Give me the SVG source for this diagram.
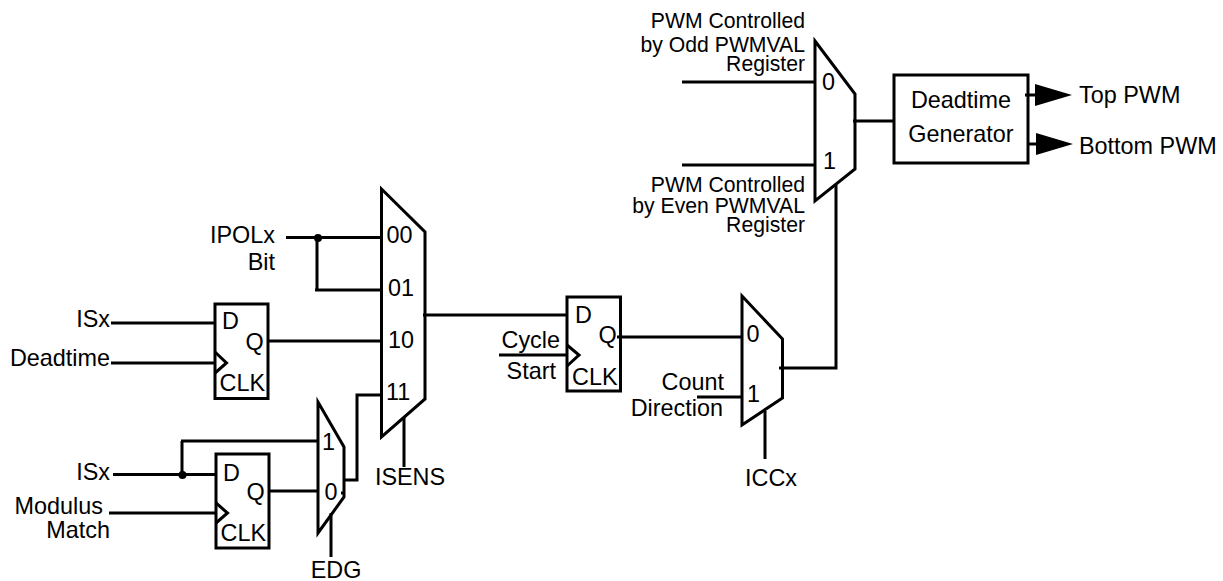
<svg xmlns="http://www.w3.org/2000/svg" width="1223" height="581" viewBox="0 0 1223 581">
<style>
text{font-family:"Liberation Sans",Arial,sans-serif;font-size:23.4px;fill:#000}
.s{font-size:21.2px}
.e{text-anchor:end}
.m{text-anchor:middle}
.b{fill:#fff;stroke:#000;stroke-width:3}
.c{fill:none;stroke:#000;stroke-width:3}
.w{fill:none;stroke:#000;stroke-width:3}
.k{fill:#000;stroke:none}
</style>
<rect width="1223" height="581" fill="#fff"/>
<g id="mux-isens"><polygon class="b" points="381.500,189 425,232 425,399 381.500,437"/>
<text x="386.500" y="243">00</text><text x="388" y="296">01</text><text x="388" y="347.500">10</text><text x="386" y="400">11</text></g>
<g id="ff-1"><rect class="b" x="215" y="304" width="53" height="94.500"/><path class="c" d="M215 352L226.500 363L215 373"/>
<text x="222" y="329">D</text><text x="245.500" y="350">Q</text><text x="219.500" y="391">CLK</text></g>
<g id="ff-2"><rect class="b" x="216" y="454" width="53" height="94"/><path class="c" d="M216 503L227.500 513L216 523"/>
<text x="223" y="481">D</text><text x="246.500" y="500">Q</text><text x="220.500" y="541">CLK</text></g>
<g id="mux-edg"><polygon class="b" points="318,402 344,447 344,497 318,533"/>
<text x="322" y="450">1</text><text x="324.500" y="500">0</text></g>
<g id="ff-3"><rect class="b" x="567" y="297" width="53.500" height="94"/><path class="c" d="M567 345L579 355L567 366"/>
<text x="575" y="323">D</text><text x="598.500" y="343">Q</text><text x="572" y="385">CLK</text></g>
<g id="mux-iccx"><polygon class="b" points="742,296 782.500,339 782.500,398 742,425"/>
<text x="746.500" y="342">0</text><text x="747" y="402">1</text></g>
<g id="mux-pwm"><polygon class="b" points="815,41 855,94 855,169 815,201"/>
<text x="822" y="90">0</text><text x="823" y="169">1</text></g>
<g id="deadtime-generator"><rect class="b" x="894" y="75" width="134" height="88"/>
<text x="961" y="107.500" class="m">Deadtime</text><text x="961" y="142" class="m">Generator</text></g>
<g id="connectors">
<path class="w" d="M286 237.500H381M317 237.500V290M315 290H381"/>
<path class="w" d="M111 323H215M111 363H215M268 341H381"/>
<path class="w" d="M113 474.500H216M182 474.500V441M181 441H318M269 491H318M109 513H216M341 493H344"/>
<path class="w" d="M344 480H357V395H381M331 513V557M404 417V467"/>
<path class="w" d="M423 315H567M499 355H567M617 337H742M697 397H742M765 411V459M779 368H836V185"/>
<path class="w" d="M682 82H816M682 165H816M853 121H894M1025 95H1037M1029 144H1037"/>
<circle class="k" cx="318" cy="238" r="4"/>
<circle class="k" cx="182.500" cy="475" r="4"/>
<polygon class="k" points="1035,84 1072,95 1035,106"/>
<polygon class="k" points="1036,133 1073,144 1036,155"/>
</g>
<g id="labels">
<text x="275" y="243" class="e">IPOLx</text><text x="275" y="270" class="e">Bit</text>
<text x="110" y="327" class="e">ISx</text><text x="110" y="366" class="e">Deadtime</text>
<text x="110" y="480" class="e">ISx</text><text x="103" y="514" class="e">Modulus</text><text x="110" y="538" class="e">Match</text>
<text x="410" y="485" class="m">ISENS</text><text x="336" y="578" class="m">EDG</text>
<text x="560" y="348" class="e">Cycle</text><text x="556" y="379" class="e">Start</text>
<text x="724" y="390" class="e">Count</text><text x="723" y="416" class="e">Direction</text>
<text x="771" y="486" class="m">ICCx</text>
<text x="805" y="28" class="e s">PWM Controlled</text><text x="805" y="51.500" class="e s">by Odd PWMVAL</text><text x="805" y="71" class="e s">Register</text>
<text x="805" y="191.500" class="e s">PWM Controlled</text><text x="805" y="213" class="e s">by Even PWMVAL</text><text x="805" y="232" class="e s">Register</text>
<text x="1079" y="103">Top PWM</text><text x="1079" y="154">Bottom PWM</text>
</g>
</svg>
